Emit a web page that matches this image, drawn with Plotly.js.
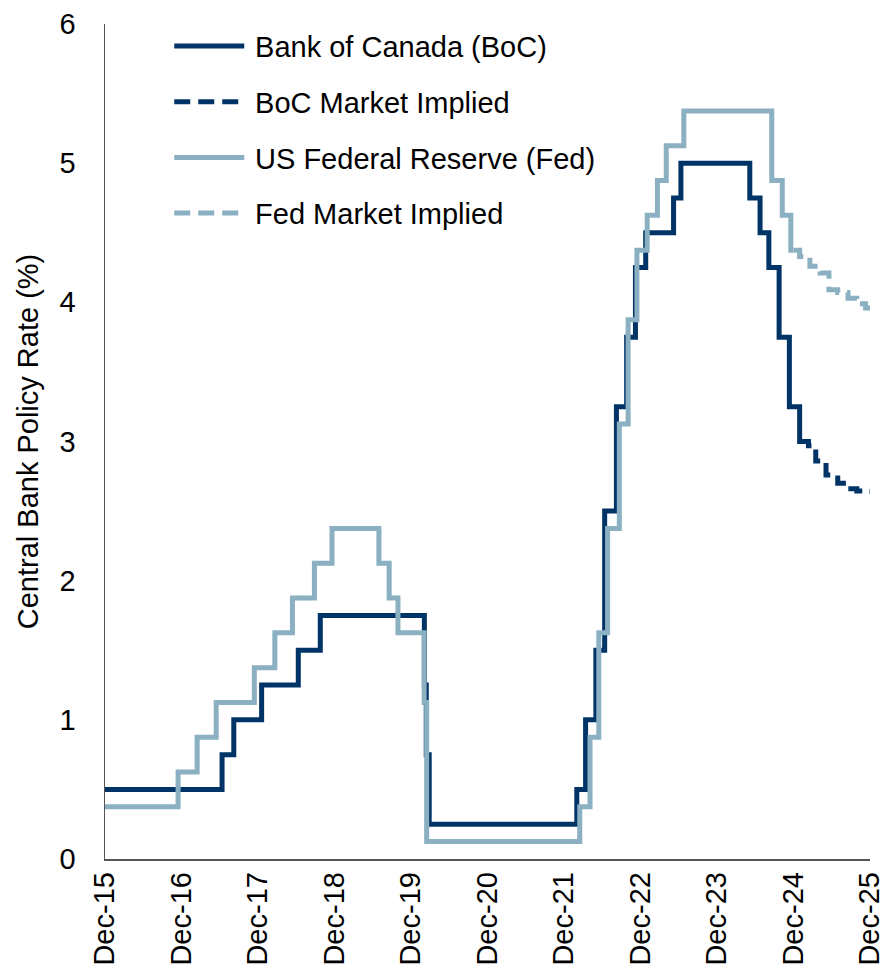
<!DOCTYPE html>
<html>
<head>
<meta charset="utf-8">
<script src="https://cdn.plot.ly/plotly-3.0.1.min.js"></script>
<style>
  body { margin: 0; background: #fff; }
  #chart { width: 886px; height: 974px; }
</style>
</head>
<body>
<div id="chart"></div>
<script>
// policy rate decisions (date the new rate took effect, rate in %)
var bocDates = ['2015-12-31', '2017-07-12', '2017-09-06', '2018-01-17', '2018-07-11', '2018-10-24',
    '2020-03-04', '2020-03-13', '2020-03-27', '2022-03-02', '2022-04-13', '2022-06-01', '2022-07-13',
    '2022-09-07', '2022-10-26', '2022-12-07', '2023-01-25', '2023-06-07', '2023-07-12', '2024-06-05',
    '2024-07-24', '2024-09-04', '2024-10-23', '2024-12-11', '2025-01-29', '2025-02-10'];
var bocRates = [0.5, 0.75, 1.0, 1.25, 1.5, 1.75,
    1.25, 0.75, 0.25, 0.5, 1.0, 1.5, 2.5,
    3.25, 3.75, 4.25, 4.5, 4.75, 5.0, 4.75,
    4.5, 4.25, 3.75, 3.25, 3.0, 3.0];

var bocMktDates = ['2025-01-29', '2025-03-12', '2025-04-16', '2025-06-04', '2025-07-30', '2025-09-17',
    '2025-10-29', '2025-12-10', '2025-12-31'];
var bocMktRates = [3.0, 2.97, 2.86, 2.76, 2.70, 2.66, 2.645, 2.64, 2.64];

var fedDates = ['2015-12-31', '2016-12-14', '2017-03-15', '2017-06-14', '2017-12-13', '2018-03-21',
    '2018-06-13', '2018-09-26', '2018-12-19', '2019-07-31', '2019-09-18', '2019-10-30', '2020-03-03',
    '2020-03-15', '2022-03-16', '2022-05-04', '2022-06-15', '2022-07-27', '2022-09-21', '2022-11-02',
    '2022-12-14', '2023-02-01', '2023-03-22', '2023-05-03', '2023-07-26', '2024-09-18', '2024-11-07',
    '2024-12-18', '2024-12-31'];
var fedRates = [0.375, 0.625, 0.875, 1.125, 1.375, 1.625,
    1.875, 2.125, 2.375, 2.125, 1.875, 1.625, 1.125,
    0.125, 0.375, 0.875, 1.625, 2.375, 3.125, 3.875,
    4.375, 4.625, 4.875, 5.125, 5.375, 4.875, 4.625,
    4.375, 4.375];

var fedMktDates = ['2024-12-31', '2025-01-29', '2025-03-19', '2025-05-07', '2025-06-18', '2025-07-30',
    '2025-09-17', '2025-10-29', '2025-12-10', '2025-12-31'];
var fedMktRates = [4.375, 4.33, 4.26, 4.21, 4.09, 4.07, 4.03, 3.99, 3.96, 3.95];

var tickDates = ['2015-12-31', '2016-12-31', '2017-12-31', '2018-12-31', '2019-12-31', '2020-12-31',
    '2021-12-31', '2022-12-31', '2023-12-31', '2024-12-31', '2025-12-31'];
var tickLabels = ['Dec-15', 'Dec-16', 'Dec-17', 'Dec-18', 'Dec-19', 'Dec-20',
    'Dec-21', 'Dec-22', 'Dec-23', 'Dec-24', 'Dec-25'];

var navy = '#003366';
var steel = '#8AB0C2';
var font = 'Arial, "Liberation Sans", sans-serif';
var fs = 29;
var gap = '\u2009';

var data = [
    {x: bocDates, y: bocRates, name: gap + 'Bank of Canada (BoC)', legendgroup: 'a',
     mode: 'lines', line: {color: navy, width: 5, shape: 'hv'}},
    {x: bocMktDates, y: bocMktRates, name: gap + 'BoC Market Implied', legendgroup: 'b',
     mode: 'lines', line: {color: navy, width: 5, shape: 'hv', dash: '16px,8px'}},
    {x: fedDates, y: fedRates, name: gap + 'US Federal Reserve (Fed)', legendgroup: 'c',
     mode: 'lines', line: {color: steel, width: 5, shape: 'hv'}},
    {x: fedMktDates, y: fedMktRates, name: gap + 'Fed Market Implied', legendgroup: 'd',
     mode: 'lines', line: {color: steel, width: 5, shape: 'hv', dash: '16px,8px'}}
];

var layout = {
    width: 886,
    height: 974,
    margin: {l: 105, r: 16, t: 24, b: 115},
    paper_bgcolor: '#fff',
    plot_bgcolor: '#fff',
    font: {family: font, size: fs, color: '#000'},
    showlegend: true,
    legend: {
        x: 0.084, y: 1.004, xanchor: 'left', yanchor: 'top',
        bgcolor: 'rgba(0,0,0,0)',
        font: {family: font, size: fs, color: '#000'},
        itemwidth: 70,
        tracegroupgap: 15
    },
    xaxis: {
        type: 'date',
        range: ['2015-12-31', '2025-12-31'],
        tickvals: tickDates,
        ticktext: tickLabels,
        tickangle: -90,
        showgrid: false,
        zeroline: false,
        showline: true,
        linecolor: '#555',
        linewidth: 1.5,
        ticks: '',
        tickfont: {family: font, size: fs, color: '#000'}
    },
    yaxis: {
        range: [0, 6],
        dtick: 1,
        showgrid: false,
        zeroline: false,
        showline: true,
        linecolor: '#555',
        linewidth: 1.5,
        ticks: '',
        ticklabelstandoff: 22,
        tickfont: {family: font, size: fs, color: '#000'},
        title: {text: 'Central Bank Policy Rate (%)', font: {family: font, size: fs, color: '#000'}, standoff: 12}
    }
};

Plotly.newPlot('chart', data, layout, {displayModeBar: false, staticPlot: true});
</script>
</body>
</html>
